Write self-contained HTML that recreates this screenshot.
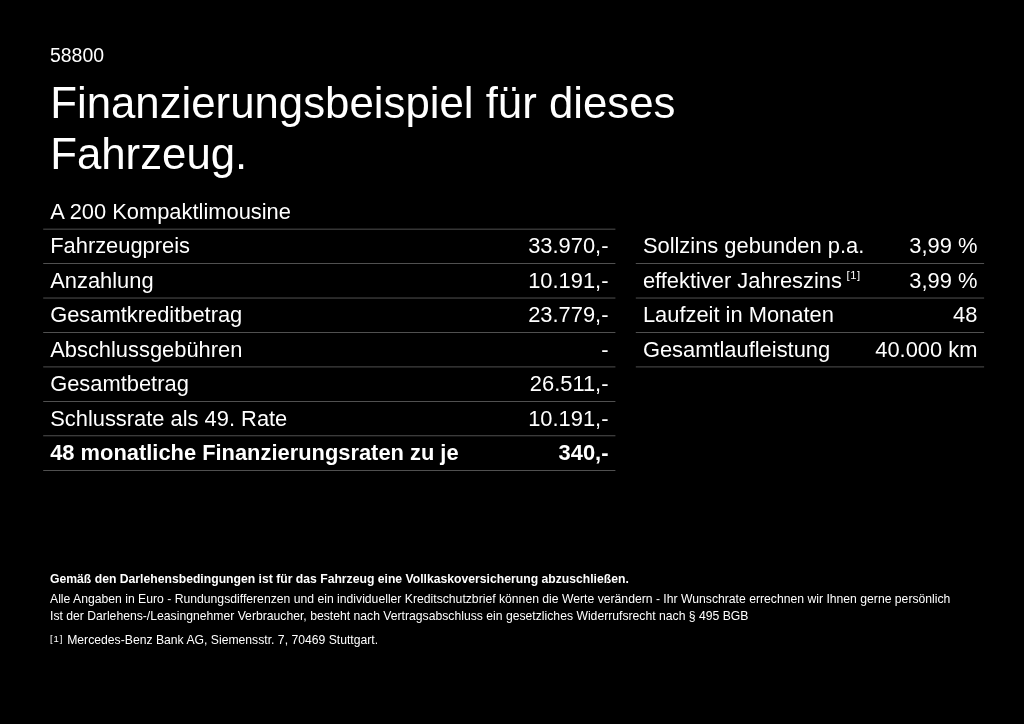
<!DOCTYPE html>
<html lang="de"><head><meta charset="utf-8"><title>Finanzierungsbeispiel</title>
<style>
html,body{margin:0;padding:0;background:#000;}
body{width:1024px;height:724px;position:relative;overflow:hidden;color:#fff;font-family:"Liberation Sans",Arial,sans-serif;}
.abs{position:absolute;white-space:nowrap;}
#id{left:50px;top:43px;font-size:19.46px;line-height:24px;}
#h1{left:50.2px;top:78px;font-size:43.78px;line-height:50.5px;font-weight:normal;margin:0;}
.row{position:absolute;height:34px;font-size:21.89px;line-height:34px;}
.row .l{position:absolute;left:0;top:0;white-space:nowrap;}
.row .r{position:absolute;right:0;top:0;white-space:nowrap;}
.L{left:50.2px;width:558.3px;}
.R{left:642.9px;width:334.5px;}
.b{font-weight:bold;}
sup{font-size:11.2px;line-height:0;vertical-align:baseline;position:relative;top:-9px;margin-left:-1.4px;letter-spacing:0.6px;}
.f{left:50px;font-size:12.2px;line-height:16px;}
.fn{position:absolute;left:0;top:-1px;font-size:9.5px;letter-spacing:0.9px;}
#ln{position:absolute;left:0;top:0;}
</style></head><body>
<svg id="ln" width="1024" height="724" viewBox="0 0 1024 724" fill="#868686">
<rect x="43.2" y="228.80" width="572.2" height="0.6"/>
<rect x="43.2" y="263.26" width="572.2" height="0.6"/>
<rect x="43.2" y="297.72" width="572.2" height="0.6"/>
<rect x="43.2" y="332.18" width="572.2" height="0.6"/>
<rect x="43.2" y="366.64" width="572.2" height="0.6"/>
<rect x="43.2" y="401.10" width="572.2" height="0.6"/>
<rect x="43.2" y="435.56" width="572.2" height="0.6"/>
<rect x="43.2" y="470.02" width="572.2" height="0.6"/>
<rect x="635.8" y="263.26" width="348.3" height="0.6"/>
<rect x="635.8" y="297.72" width="348.3" height="0.6"/>
<rect x="635.8" y="332.18" width="348.3" height="0.6"/>
<rect x="635.8" y="366.64" width="348.3" height="0.6"/>
</svg>
<div class="abs" id="id">58800</div>
<h1 class="abs" id="h1">Finanzierungsbeispiel für dieses<br>Fahrzeug.</h1>

<div class="row L" style="top:194.90px"><span class="l">A 200 Kompaktlimousine</span></div>
<div class="row L" style="top:229.36px"><span class="l">Fahrzeugpreis</span><span class="r">33.970,-</span></div>
<div class="row L" style="top:263.82px"><span class="l">Anzahlung</span><span class="r">10.191,-</span></div>
<div class="row L" style="top:298.28px"><span class="l">Gesamtkreditbetrag</span><span class="r">23.779,-</span></div>
<div class="row L" style="top:332.74px"><span class="l">Abschlussgebühren</span><span class="r">-</span></div>
<div class="row L" style="top:367.20px"><span class="l">Gesamtbetrag</span><span class="r">26.511,-</span></div>
<div class="row L" style="top:401.66px"><span class="l">Schlussrate als 49. Rate</span><span class="r">10.191,-</span></div>
<div class="row L b" style="top:436.12px"><span class="l">48 monatliche Finanzierungsraten zu je</span><span class="r">340,-</span></div>
<div class="row R" style="top:229.36px"><span class="l">Sollzins gebunden p.a.</span><span class="r">3,99 %</span></div>
<div class="row R" style="top:263.82px"><span class="l">effektiver Jahreszins <sup>[1]</sup></span><span class="r">3,99 %</span></div>
<div class="row R" style="top:298.28px"><span class="l">Laufzeit in Monaten</span><span class="r">48</span></div>
<div class="row R" style="top:332.74px"><span class="l">Gesamtlaufleistung</span><span class="r">40.000 km</span></div>

<div class="abs f b" style="top:571px">Gemäß den Darlehensbedingungen ist für das Fahrzeug eine Vollkaskoversicherung abzuschließen.</div>
<div class="abs f" style="top:591px">Alle Angaben in Euro - Rundungsdifferenzen und ein individueller Kreditschutzbrief können die Werte verändern - Ihr Wunschrate errechnen wir Ihnen gerne persönlich</div>
<div class="abs f" style="top:608px">Ist der Darlehens-/Leasingnehmer Verbraucher, besteht nach Vertragsabschluss ein gesetzliches Widerrufsrecht nach § 495 BGB</div>
<div class="abs f" style="top:632px"><span class="fn">[1]</span><span style="margin-left:17.2px">Mercedes</span>-Benz Bank AG, Siemensstr. 7, 70469 Stuttgart.</div>
</body></html>
